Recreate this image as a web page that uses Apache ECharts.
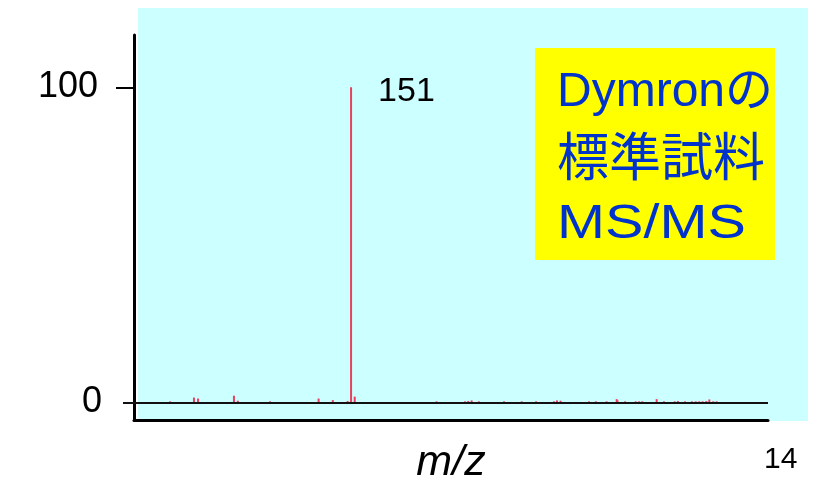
<!DOCTYPE html>
<html>
<head>
<meta charset="utf-8">
<script src="https://cdn.jsdelivr.net/npm/echarts@6/dist/echarts.min.js"></script>
<style>
  html, body { margin: 0; padding: 0; background: #ffffff; }
  #chart { width: 813px; height: 491px; }
</style>
</head>
<body>
<div id="chart"></div>
<script>
// Product-ion spectrum (MS/MS) of a Dymron reference standard
const mzValues = [
  66.8, 77.9, 79.8, 96.5, 98.3, 113.3, 135.9, 142.5, 149.4, 151, 152.7,
  190.8, 204.0, 205.5, 207.1, 210.5, 222.2, 230.4, 237.1, 245.4, 246.8, 248.5,
  261.7, 264.9, 269.9, 274.6, 275.0, 278.5, 283.4, 285.0, 286.5, 293.2, 296.6,
  301.6, 303.1, 306.4, 309.6, 311.4, 313.0, 314.6, 316.3, 317.7, 319.5, 321.1
];
const intensities = [
  0.3, 1.5, 1.2, 2.1, 0.5, 0.3, 1.2, 0.7, 0.4, 100, 1.8,
  0.3, 0.3, 0.4, 0.6, 0.3, 0.3, 0.3, 0.3, 0.3, 0.6, 0.5,
  0.3, 0.3, 0.3, 1.0, 0.6, 0.3, 0.3, 0.3, 0.3, 1.0, 0.3,
  0.3, 0.4, 0.3, 0.3, 0.3, 0.3, 0.3, 0.4, 0.9, 0.3, 0.3
];
const labelledPeaks = [151];
const yTickUpper = [100];
const yTickZero = [0];
const titleLines = ['Dymronの', '標準試料', 'MS/MS'];
const pageNumber = '14';

const xMin = 50, xMax = 345;
const yMin = -5.62, yMax = 116.6;

const latin = '"Liberation Sans", Arial, "Noto Sans CJK JP", sans-serif';
const cjk = '"Liberation Sans", "Noto Sans CJK JP", sans-serif';

const peakData = mzValues.map((mz, i) => {
  const item = { value: [mz, intensities[i]] };
  if (labelledPeaks.includes(mz)) {
    item.label = {
      show: true,
      position: [28, 4],
      align: 'left',
      verticalAlign: 'middle',
      formatter: (p) => String(p.value[0]),
      color: '#000',
      fontSize: 34,
      fontFamily: latin
    };
  }
  return item;
});

const chart = echarts.init(document.getElementById('chart'), null, { renderer: 'canvas' });

// per-line placement of the caption inside the yellow box
const lineStyles = [
  { y: 93, size: 48, sx: 1.0 },
  { y: 162, size: 52, sx: 1.0 },
  { y: 225, size: 48, sx: 1.2 }
];

chart.setOption({
  animation: false,
  backgroundColor: '#ffffff',
  grid: { left: 134, right: 45, top: 35, bottom: 71, containLabel: false },
  xAxis: {
    type: 'value',
    min: xMin,
    max: xMax,
    axisLine: { onZero: false, lineStyle: { color: '#000', width: 3 } },
    axisTick: { show: false },
    axisLabel: { show: false },
    splitLine: { show: false },
    name: 'm/z',
    nameLocation: 'middle',
    nameGap: 22,
    nameTextStyle: {
      fontSize: 43, fontStyle: 'italic', color: '#000', fontFamily: latin,
      verticalAlign: 'top'
    }
  },
  yAxis: [
    {
      type: 'value',
      min: yMin,
      max: yMax,
      position: 'left',
      offset: 0,
      axisLine: { show: true, onZero: false, lineStyle: { color: '#000', width: 3 } },
      axisTick: { show: true, customValues: yTickUpper, length: 18, lineStyle: { color: '#000', width: 2 } },
      axisLabel: { show: true, customValues: yTickUpper, margin: 36, fontSize: 36, color: '#000', fontFamily: latin },
      splitLine: { show: false }
    },
    {
      type: 'value',
      min: yMin,
      max: yMax,
      position: 'left',
      offset: 0,
      axisLine: { show: false },
      axisTick: { show: true, customValues: yTickZero, length: 11, lineStyle: { color: '#111', width: 2 } },
      axisLabel: { show: true, customValues: yTickZero, margin: 32, fontSize: 36, color: '#000', fontFamily: latin },
      splitLine: { show: false }
    }
  ],
  series: [
    {
      type: 'bar',
      xAxisIndex: 0,
      yAxisIndex: 0,
      barWidth: 2,
      itemStyle: { color: '#e8405e' },
      data: peakData,
      markLine: {
        silent: true,
        symbol: 'none',
        label: { show: false },
        lineStyle: { color: '#111', width: 2, type: 'solid' },
        data: [{ yAxis: 0 }]
      }
    }
  ],
  graphic: [
    {
      type: 'rect', z: -10, silent: true,
      shape: { x: 138, y: 8, width: 670, height: 413 },
      style: { fill: '#ccffff' }
    },
    {
      type: 'rect', z: 50, silent: true,
      shape: { x: 535, y: 48, width: 240, height: 212 },
      style: { fill: '#ffff00' }
    }
  ].concat(titleLines.map((t, i) => ({
    type: 'text', z: 60, silent: true,
    x: 557, y: lineStyles[i].y,
    scaleX: lineStyles[i].sx, scaleY: 1,
    style: {
      text: t, x: 0, y: 0,
      fill: '#0033cc', fontSize: lineStyles[i].size, fontFamily: cjk,
      textAlign: 'left', textVerticalAlign: 'middle'
    }
  }))).concat([
    {
      type: 'text', z: 60, silent: true,
      style: {
        text: pageNumber, x: 764, y: 460,
        fill: '#000', fontSize: 30, fontFamily: latin,
        textAlign: 'left', textVerticalAlign: 'middle'
      }
    }
  ])
});
</script>
</body>
</html>
